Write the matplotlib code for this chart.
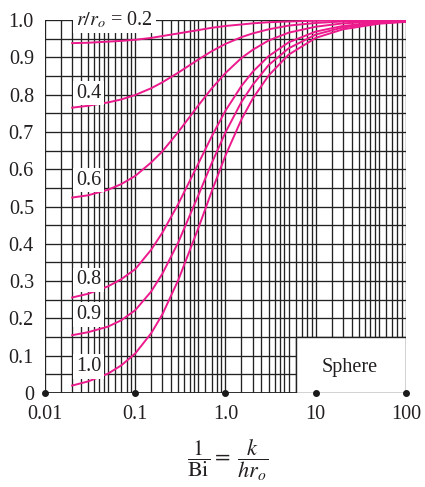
import matplotlib
matplotlib.use('Agg')
import numpy as np
import matplotlib.pyplot as plt
from matplotlib.patches import Rectangle

plt.rcParams['font.family'] = ['Liberation Serif', 'DejaVu Serif']
plt.rcParams['mathtext.fontset'] = 'stix'

# 1/Bi values where the curves were read
inv_bi = [0.02, 0.03, 0.05, 0.07, 0.1, 0.15, 0.2, 0.3, 0.5, 0.7, 1.0,
          1.5, 2.0, 3.0, 5.0, 10, 20, 50, 100]

# theta/theta_0 for each r/r_o
theta_r02 = [0.938, 0.939, 0.942, 0.944, 0.947, 0.952, 0.957, 0.964, 0.973, 0.979,
             0.984, 0.988, 0.991, 0.994, 0.996, 0.998, 0.999, 1.0, 1.0]
theta_r04 = [0.765, 0.770, 0.779, 0.787, 0.799, 0.817, 0.833, 0.859, 0.894, 0.916,
             0.936, 0.954, 0.964, 0.975, 0.985, 0.992, 0.996, 0.998, 0.999]
theta_r06 = [0.524, 0.530, 0.545, 0.560, 0.582, 0.618, 0.648, 0.700, 0.771, 0.816,
             0.858, 0.898, 0.920, 0.945, 0.966, 0.982, 0.991, 0.996, 0.998]
theta_r08 = [0.256, 0.266, 0.286, 0.305, 0.332, 0.384, 0.430, 0.507, 0.615, 0.687,
             0.757, 0.823, 0.861, 0.903, 0.940, 0.969, 0.984, 0.994, 0.997]
theta_r09 = [0.155, 0.163, 0.178, 0.195, 0.222, 0.272, 0.320, 0.404, 0.530, 0.615,
             0.699, 0.780, 0.826, 0.879, 0.924, 0.961, 0.980, 0.992, 0.996]
theta_r10 = [0.020, 0.031, 0.052, 0.074, 0.106, 0.160, 0.211, 0.303, 0.442, 0.539,
             0.637, 0.733, 0.789, 0.851, 0.907, 0.952, 0.975, 0.990, 0.995]

curves = [theta_r02, theta_r04, theta_r06, theta_r08, theta_r09, theta_r10]
curve_labels = ['$r/r_o$ = 0.2', '0.4', '0.6', '0.8', '0.9', '1.0']
label_y = [1.0, 0.804, 0.571, 0.303, 0.21, 0.071]

x_ticks = [0.01, 0.1, 1.0, 10, 100]
x_ticklabels = ['0.01', '0.1', '1.0', '10', '100']
y_ticks = [0, 0.1, 0.2, 0.3, 0.4, 0.5, 0.6, 0.7, 0.8, 0.9, 1.0]
y_ticklabels = ['0', '0.1', '0.2', '0.3', '0.4', '0.5', '0.6', '0.7', '0.8', '0.9', '1.0']

PINK = '#ec1a8c'
GRID = '#222222'
TXT = '#231f20'
FS = 14.5

fig = plt.figure(figsize=(4.25, 4.87), dpi=100)
ax = fig.add_axes([45/425, 1 - 393/487, (406-45)/425, (393-20)/487])
ax.set_xscale('log')
ax.set_xlim(0.01, 100)
ax.set_ylim(0, 1.0)
for s in ax.spines.values():
    s.set_visible(False)

# grid drawn by hand so label boxes can hide it
marks = [1, 1.5, 2, 2.5, 3, 3.5, 4, 4.5, 5, 6, 7, 8, 9]
for k in range(-2, 2):
    for m in marks:
        ax.axvline(m * 10.0**k, color=GRID, lw=0.95, zorder=1)
ax.axvline(100, color=GRID, lw=0.95, zorder=1)
for yy in np.arange(0, 1.0001, 0.05):
    ax.axhline(yy, color=GRID, lw=0.95, zorder=1)
ax.axhline(0, color=GRID, lw=1.3, zorder=1)

# Sphere box
ax.add_patch(Rectangle((6, 0), 94, 0.15, facecolor='white', edgecolor=GRID,
                       lw=1.0, zorder=2))
ax.text(24, 0.068, 'Sphere', fontsize=FS, color=TXT, ha='center', va='center', zorder=3)

for ys in curves:
    ax.plot(inv_bi, ys, color=PINK, lw=1.4, zorder=3)

for lab, yl in zip(curve_labels, label_y):
    ax.text(0.0222, yl, lab, fontsize=FS, color=TXT, ha='left', va='center',
            zorder=5, clip_on=False,
            bbox=dict(facecolor='white', edgecolor='none', pad=2.0))

ax.plot(x_ticks, [0] * len(x_ticks), 'o', ms=4, color='#1a1a1a', clip_on=False, zorder=6)

ax.set_xticks(x_ticks)
ax.set_xticklabels(x_ticklabels)
ax.set_xticks([], minor=True)
ax.set_yticks(y_ticks)
ax.set_yticklabels(y_ticklabels)
ax.tick_params(axis='both', length=0, labelsize=FS, colors=TXT)
ax.tick_params(axis='x', pad=8.5)
ax.tick_params(axis='y', pad=8)

fig.text(0.535, 0.055, r'$\dfrac{1}{\mathrm{Bi}} = \ \dfrac{k}{hr_o}$',
         fontsize=16, color=TXT, ha='center', va='center')

fig.savefig('out.png', dpi=100)
plt.close(fig)
